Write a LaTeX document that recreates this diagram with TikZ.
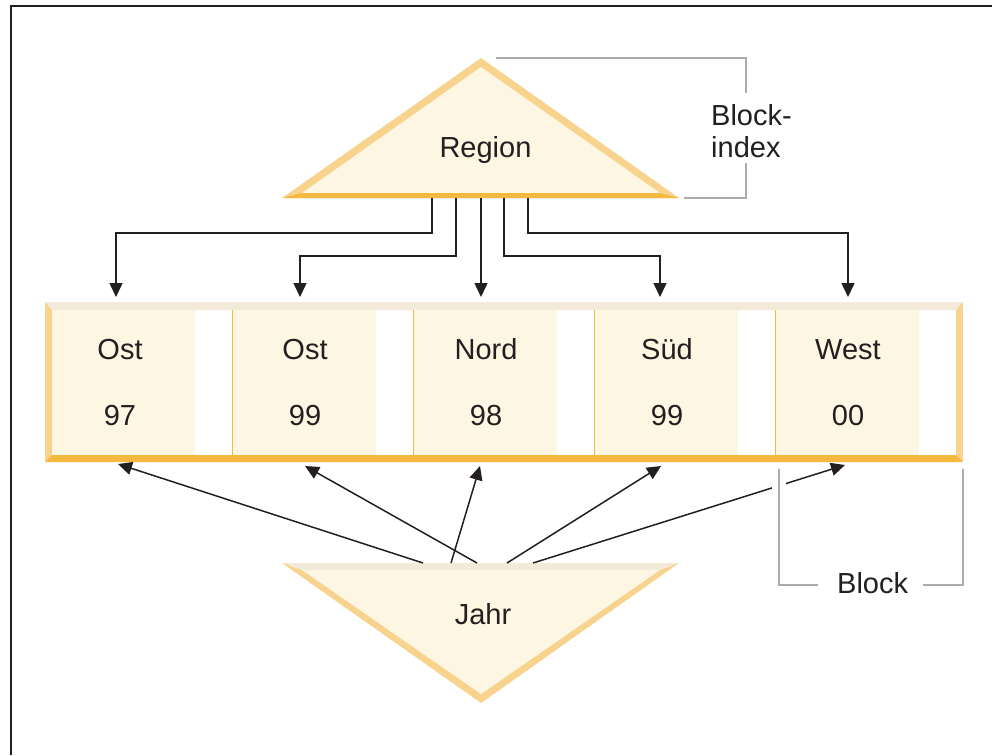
\documentclass[tikz,border=0pt]{standalone}
\usepackage{fontspec}
\setmainfont{Liberation Sans}
\usetikzlibrary{arrows.meta}
\definecolor{cream}{HTML}{FDF6E3}
\definecolor{lorange}{HTML}{F7D38E}
\definecolor{dorange}{HTML}{F6B93F}
\definecolor{beige}{HTML}{F4EAD9}
\definecolor{brgray}{HTML}{ABABAE}
\definecolor{ink}{HTML}{231F20}
\begin{document}
\begin{tikzpicture}[x=1pt,y=-1pt,
  lbl/.style={inner sep=0pt,anchor=base,text=ink,font=\fontsize{29}{32}\selectfont},
  cellbox/.style={fill=cream,draw=none,minimum width=143pt,minimum height=145pt,inner sep=0pt},
  divider/.style={draw=dorange,line width=1.5pt},
  arr/.style={draw=ink,line width=1.5pt,-{Triangle[length=14pt,width=13pt]}},
  bracket/.style={draw=brgray,line width=1.5pt},
  frameline/.style={draw=ink,line width=2pt}]
\useasboundingbox (0,0) rectangle (992,755);
% frame
\draw[frameline] (11,755) -- (11,6) -- (992,6);

% Region triangle
\fill[lorange] (481,58) -- (679,198) -- (282,198) -- cycle;
\fill[cream] (481,67) -- (660,193) -- (302,193) -- cycle;
\fill[dorange] (282,198) -- (679,198) -- (660,193) -- (302,193) -- cycle;
\node[lbl] (region) at (485.5,157) {Region};
\coordinate (r1) at (432,198);
\coordinate (r2) at (456,198);
\coordinate (r3) at (481,198);
\coordinate (r4) at (504,198);
\coordinate (r5) at (528,198);

% Blockindex bracket
\node[lbl,anchor=north west,align=left] (bidx) at (711,104) {Block-\\index};
\draw[bracket] (496,58) -- (746,58) -- (746,93);
\draw[bracket] (746,163) -- (746,198) -- (684,198);

% bar
\fill[lorange] (45,302) rectangle (963,462);
\fill[white] (52,310) rectangle (956,455);
\fill[beige] (45,302) -- (963,302) -- (956,310) -- (52,310) -- cycle;
\fill[dorange] (45,462) -- (963,462) -- (956,455) -- (52,455) -- cycle;
\node[cellbox] (c1) at (123.5,382.5) {};
\node[cellbox] (c2) at (304.5,382.5) {};
\node[cellbox] (c3) at (485.5,382.5) {};
\node[cellbox] (c4) at (666.5,382.5) {};
\node[cellbox] (c5) at (847.5,382.5) {};
\draw[divider] (232.5,310) -- (232.5,455);
\draw[divider] (413.5,310) -- (413.5,455);
\draw[divider] (594.5,310) -- (594.5,455);
\draw[divider] (775.5,310) -- (775.5,455);

\node[lbl] (n1) at (120,359) {Ost};
\node[lbl] (v1) at (120,425) {97};
\node[lbl] (n2) at (305,359) {Ost};
\node[lbl] (v2) at (305,425) {99};
\node[lbl] (n3) at (486,359) {Nord};
\node[lbl] (v3) at (486,425) {98};
\node[lbl] (n4) at (667,359) {Süd};
\node[lbl] (v4) at (667,425) {99};
\node[lbl] (n5) at (848,359) {West};
\node[lbl] (v5) at (848,425) {00};

% top targets
\coordinate (t1) at (116,297);
\coordinate (t2) at (300,297);
\coordinate (t3) at (481,297);
\coordinate (t4) at (660,297);
\coordinate (t5) at (848,297);
\draw[arr] (r1) -- ++(0,35) -| (t1);
\draw[arr] (r2) -- ++(0,58) -| (t2);
\draw[arr] (r3) -- (t3);
\draw[arr] (r4) -- ++(0,58) -| (t4);
\draw[arr] (r5) -- ++(0,35) -| (t5);

% Jahr triangle
\fill[lorange] (282,563) -- (679,563) -- (481,703) -- cycle;
\fill[cream] (302,570) -- (660,570) -- (481,694) -- cycle;
\fill[beige] (282,563) -- (679,563) -- (660,570) -- (302,570) -- cycle;
\node[lbl] (jahr) at (483,624) {Jahr};
\coordinate (j1) at (423,563);
\coordinate (j2) at (477,563);
\coordinate (j3) at (451,563);
\coordinate (j4) at (507,563);
\coordinate (j5) at (533,563);

% bottom targets
\coordinate (b1) at (118,464);
\coordinate (b2) at (305,466);
\coordinate (b3) at (480,466);
\coordinate (b4) at (661,466);
\coordinate (b5) at (845,465);
\draw[arr] (j1) -- (b1);
\draw[arr] (j2) -- (b2);
\draw[arr] (j3) -- (b3);
\draw[arr] (j4) -- (b4);
\draw[arr] (j5) -- (b5);

% Block bracket
\node[lbl,anchor=base west] (blk) at (837,593) {Block};
\draw[draw=white,line width=14pt] (779,478) -- (779,496);
\draw[bracket] (779,469) -- (779,585) -- (818,585);
\draw[bracket] (923,585) -- (963,585) -- (963,469);
\end{tikzpicture}
\end{document}
